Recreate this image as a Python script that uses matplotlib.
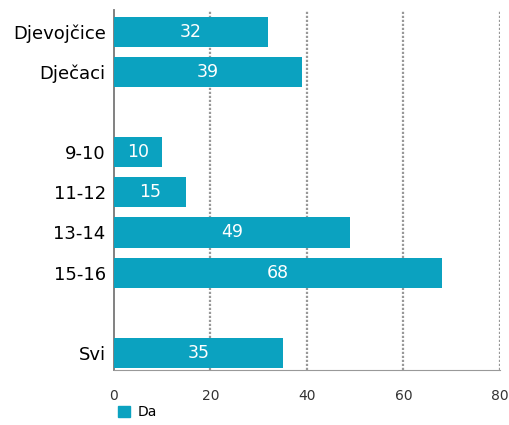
import numpy as np
import matplotlib.pyplot as plt
from matplotlib.patches import Patch

# data
categories = ["Djevojčice", "Dječaci", "", "9-10", "11-12", "13-14", "15-16", "", "Svi"]
values = [32, 39, None, 10, 15, 49, 68, None, 35]
x_ticks = [0, 20, 40, 60, 80]
series_name = "Da"

bar_color = "#0ba2c0"

fig = plt.figure(figsize=(5.1, 4.25), dpi=100)
ax = fig.add_axes([0.2235, 0.1294, 0.7565, 0.8471])

pos = np.arange(len(categories))
for p, v in zip(pos, values):
    if v is None:
        continue
    ax.barh(p, v, height=0.75, color=bar_color, zorder=3)
    ax.text(v / 2, p, str(v), ha="center", va="center", color="white",
            fontsize=12.5, zorder=4)

ax.set_ylim(8.43, -0.55)
ax.set_xlim(0, 80)
ax.set_yticks(pos)
ax.set_yticklabels(categories, fontsize=13)
ax.tick_params(axis="y", length=0, pad=6)
ax.set_xticks(x_ticks)
ax.tick_params(axis="x", length=0, pad=14, labelsize=10, labelcolor="#333333")

for t in x_ticks[1:]:
    ax.axvline(t, color="#999999", linestyle=(0, (1, 0.8)), linewidth=1.6, zorder=1)

for s in ["top", "right"]:
    ax.spines[s].set_visible(False)
ax.spines["left"].set_color("#777777")
ax.spines["bottom"].set_color("#999999")
ax.spines["left"].set_linewidth(1.3)

ax.legend(handles=[Patch(color=bar_color, label=series_name)],
          loc="upper left", bbox_to_anchor=(-0.01, -0.075), frameon=False,
          handlelength=0.8, handleheight=0.8, handletextpad=0.6, fontsize=10,
          borderaxespad=0.2)

fig.savefig("out.png", dpi=100)
